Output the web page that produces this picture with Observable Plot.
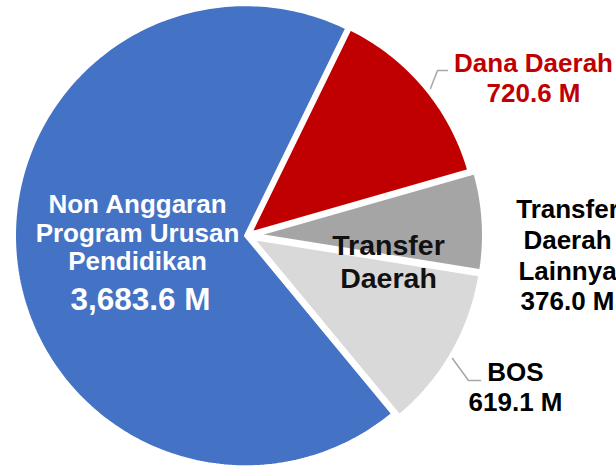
<!DOCTYPE html>
<html>
<head>
<meta charset="utf-8">
<script src="https://cdn.jsdelivr.net/npm/d3@7"></script>
<script src="https://cdn.jsdelivr.net/npm/@observablehq/plot@0.6"></script>
<style>
  html, body { margin: 0; padding: 0; background: #fff; }
  svg { display: block; }
</style>
</head>
<body>
<div id="chart"></div>
<script>
// ---- data ----
const categories = ["Dana Daerah", "Transfer Daerah Lainnya", "BOS", "Non Anggaran Program Urusan Pendidikan"];
const values = [720.6, 376.0, 619.1, 3683.6];
const labelNames = ["Dana Daerah", "Transfer\nDaerah\nLainnya", "BOS", "Non Anggaran\nProgram Urusan\nPendidikan"];
const groupLabel = "Transfer\nDaerah";

// ---- layout / style ----
const colors = ["#C00000", "#A5A5A5", "#D9D9D9", "#4472C4"];
const W = 616, H = 468;
const cx = 247, cy = 235;
const startDeg = 26;
const explode = [4, 10, 6, 2];
const radii = [227, 226, 230, 231];

const total = d3.sum(values);
const fmt = v => d3.format(",.1f")(v) + " M";

const rad = d => d * Math.PI / 180;
const pts = [];
let a = startDeg;
values.forEach((v, i) => {
  const span = v / total * 360;
  const a0 = a, a1 = a + span;
  const mid = (a0 + a1) / 2;
  const ox = cx + explode[i] * Math.sin(rad(mid));
  const oy = cy - explode[i] * Math.cos(rad(mid));
  const r = radii[i];
  pts.push({k: categories[i], x: ox, y: oy, c: colors[i]});
  const n = Math.max(8, Math.ceil(span));
  for (let j = 0; j <= n; j++) {
    const t = a0 + span * j / n;
    pts.push({k: categories[i], x: ox + r * Math.sin(rad(t)), y: oy - r * Math.cos(rad(t)), c: colors[i]});
  }
  pts.push({k: categories[i], x: ox, y: oy, c: colors[i]});
  a = a1;
});

const font = "'Liberation Sans', Arial, sans-serif";

const labels = [
  {text: labelNames[0] + "\n" + fmt(values[0]), x: 533, y: 77, fill: "#C00000", fs: 26, lh: 1.16},
  {text: labelNames[1] + "\n" + fmt(values[1]), x: 567, y: 254, fill: "#000", fs: 26, lh: 1.18},
  {text: labelNames[2] + "\n" + fmt(values[2]), x: 515, y: 386, fill: "#000", fs: 26, lh: 1.15},
  {text: labelNames[3], x: 137, y: 232, fill: "#fff", fs: 26, lh: 1.1},
  {text: fmt(values[3]), x: 140, y: 297, fill: "#fff", fs: 31.5, lh: 1.2},
  {text: groupLabel, x: 388, y: 260, fill: "#111", fs: 28.5, lh: 1.16}
];

const leaders = [
  {k: "a", x: 430, y: 88}, {k: "a", x: 437, y: 70}, {k: "a", x: 447, y: 70},
  {k: "b", x: 452, y: 358}, {k: "b", x: 468, y: 380}, {k: "b", x: 480, y: 380}
];

const marks = [
  Plot.line(pts, {x: "x", y: "y", z: "k", fill: "c", stroke: "#fff", strokeWidth: 3, strokeLinejoin: "miter", curve: "linear"}),
  Plot.line(leaders, {x: "x", y: "y", z: "k", stroke: "#A6A6A6", strokeWidth: 1.5})
];
labels.forEach(l => {
  marks.push(Plot.text([l], {x: "x", y: "y", text: "text", fill: l.fill, fontSize: l.fs, lineHeight: l.lh,
    fontWeight: "bold", fontFamily: font, textAnchor: "middle", lineAnchor: "middle"}));
});

const chart = Plot.plot({
  width: W, height: H, margin: 0,
  x: {type: "linear", domain: [0, W], range: [0, W], axis: null},
  y: {type: "linear", domain: [0, H], range: [0, H], axis: null},
  color: {type: "identity"},
  style: {background: "#fff", fontFamily: font},
  marks
});
document.getElementById("chart").appendChild(chart);
</script>
</body>
</html>
